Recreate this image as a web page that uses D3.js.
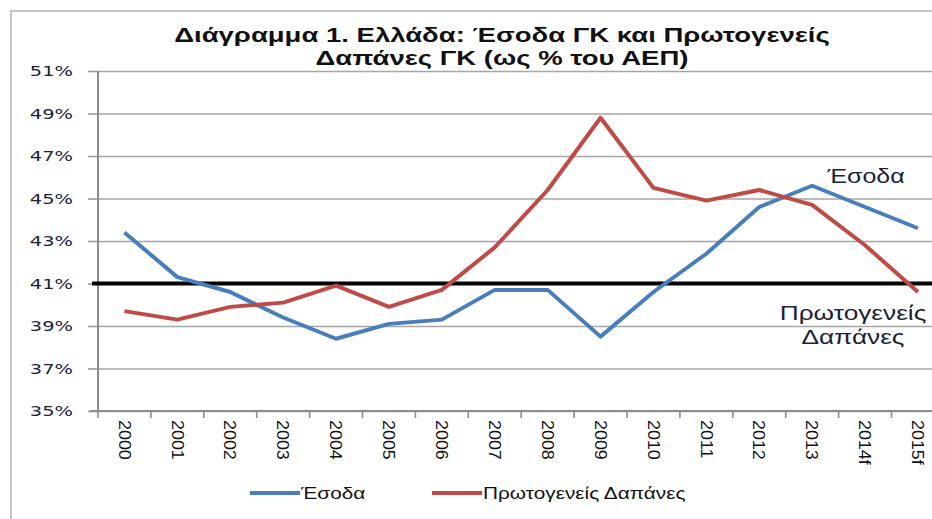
<!DOCTYPE html>
<html>
<head>
<meta charset="utf-8">
<script src="https://cdn.jsdelivr.net/npm/d3@7"></script>
<style>
body{margin:0;background:#fff;}
svg{display:block;}
</style>
</head>
<body>
<div id="chart"></div>
<script>
const years = ["2000","2001","2002","2003","2004","2005","2006","2007","2008","2009","2010","2011","2012","2013","2014f","2015f"];
const esoda = [43.4,41.3,40.6,39.4,38.4,39.1,39.3,40.7,40.7,38.5,40.6,42.4,44.6,45.6,44.6,43.6];
const dapanes = [39.7,39.3,39.9,40.1,40.9,39.9,40.7,42.7,45.4,48.8,45.5,44.9,45.4,44.7,42.8,40.6];
const yTicks = [35,37,39,41,43,45,47,49,51];
const refLevel = 41;
const titleLines = ["Διάγραμμα 1. Ελλάδα: Έσοδα ΓΚ και Πρωτογενείς","Δαπάνες ΓΚ (ως % του ΑΕΠ)"];
const seriesNames = ["Έσοδα","Πρωτογενείς Δαπάνες"];
const colors = ["#4a7ebb","#be4b48"];

var W = 932, H = 519;
var plotLeft = 98, plotTop = 71, plotBottom = 411, bandW = 52.9;
var stretch = 1.28;

var svg = d3.select("#chart").append("svg")
	.attr("width",W)
	.attr("height",H);

// outer frame
svg.append("rect")
	.attr("x",11).attr("y",11)
	.attr("width",960).attr("height",540)
	.attr("fill","none")
	.attr("stroke","#c6c6c6")
	.attr("stroke-width",2);

var x = d3.scaleBand()
	.domain(years)
	.range([plotLeft,plotLeft+years.length*bandW])
	.padding(0);

var y = d3.scaleLinear()
	.domain([35,51])
	.range([plotBottom,plotTop]);

// gridlines + y ticks
var yAxis = svg.append("g")
	.attr("transform","translate("+plotLeft+",0)")
	.call(d3.axisLeft(y).tickValues(yTicks).tickSizeInner(10).tickSizeOuter(0).tickFormat(""));
yAxis.select(".domain").remove();
yAxis.selectAll(".tick line").attr("stroke","#9a9a9a").attr("stroke-width",1.6);

var grid = svg.append("g")
	.attr("transform","translate("+plotLeft+",0)")
	.call(d3.axisLeft(y).tickValues(yTicks).tickSize(-(W-plotLeft+20)).tickFormat(""));
grid.select(".domain").remove();
grid.selectAll(".tick line").attr("stroke","#a6a6a6").attr("stroke-width",1.6);

// y labels
svg.append("g").selectAll("text")
	.data(yTicks)
	.join("text")
	.attr("transform",function(d){return "translate(73,"+y(d)+") scale(1.34,1)";})
	.attr("dy","0.36em")
	.attr("text-anchor","end")
	.style("font-family","DejaVu Sans")
	.style("font-size","14.5px")
	.attr("fill","#1a2238")
	.text(function(d){return d+"%";});

// axis lines
svg.append("line")
	.attr("x1",plotLeft).attr("x2",plotLeft)
	.attr("y1",plotTop).attr("y2",plotBottom)
	.attr("stroke","#8c8c8c").attr("stroke-width",2);
svg.append("line")
	.attr("x1",plotLeft-8).attr("x2",W)
	.attr("y1",plotBottom).attr("y2",plotBottom)
	.attr("stroke","#8c8c8c").attr("stroke-width",2);

// x ticks between categories
var bounds = years.map(function(d){return x(d);}).concat([x(years[years.length-1])+bandW]);
svg.append("g").selectAll("line")
	.data(bounds)
	.join("line")
	.attr("x1",function(d){return d;}).attr("x2",function(d){return d;})
	.attr("y1",plotBottom).attr("y2",plotBottom+7)
	.attr("stroke","#8c8c8c").attr("stroke-width",1.6);

// x labels rotated
svg.append("g").selectAll("text")
	.data(years)
	.join("text")
	.attr("transform",function(d){return "translate("+(x(d)+x.bandwidth()/2)+",420) rotate(90) scale(1.12,1)";})
	.attr("dy","0.36em")
	.style("font-family","Liberation Sans")
	.style("font-size","16px")
	.attr("fill","#111")
	.text(function(d){return d;});

// reference line at 41%
svg.append("line")
	.attr("x1",plotLeft-6).attr("x2",W)
	.attr("y1",y(refLevel)).attr("y2",y(refLevel))
	.attr("stroke","#000").attr("stroke-width",4);

// series lines
var line = d3.line()
	.x(function(d,i){return x(years[i])+x.bandwidth()/2;})
	.y(function(d){return y(d);});

[esoda,dapanes].forEach(function(s,k){
	svg.append("path")
		.datum(s)
		.attr("d",line)
		.attr("fill","none")
		.attr("stroke",colors[k])
		.attr("stroke-width",4)
		.attr("stroke-linejoin","round");
});

// title
svg.append("g").selectAll("text")
	.data(titleLines)
	.join("text")
	.attr("transform",function(d,i){return "translate(502,"+(42+i*23)+") scale(1.31,1)";})
	.attr("text-anchor","middle")
	.style("font-family","Liberation Sans")
	.style("font-weight","bold")
	.style("font-size","21px")
	.attr("fill","#111")
	.text(function(d){return d;});

// annotations
svg.append("text")
	.attr("transform","translate(866,183) scale("+stretch+",1)")
	.attr("text-anchor","middle")
	.style("font-family","Liberation Sans")
	.style("font-size","19.5px")
	.attr("fill","#1a2238")
	.text(seriesNames[0]);
var ann = seriesNames[1].split(" ");
svg.append("g").selectAll("text")
	.data(ann)
	.join("text")
	.attr("transform",function(d,i){return "translate(853,"+(320+i*24)+") scale("+stretch+",1)";})
	.attr("text-anchor","middle")
	.style("font-family","Liberation Sans")
	.style("font-size","20.5px")
	.attr("fill","#1a2238")
	.text(function(d){return d;});

// legend
var legX = [250,432];
var leg = svg.append("g").selectAll("g")
	.data(seriesNames)
	.join("g")
	.attr("transform",function(d,i){return "translate("+legX[i]+",493)";});
leg.append("line")
	.attr("x1",0).attr("x2",50)
	.attr("stroke",function(d,i){return colors[i];})
	.attr("stroke-width",4);
leg.append("text")
	.attr("transform","translate(51,6) scale(1.3,1)")
	.style("font-family","Liberation Sans")
	.style("font-size","16px")
	.attr("fill","#111")
	.text(function(d){return d;});
</script>
</body>
</html>
